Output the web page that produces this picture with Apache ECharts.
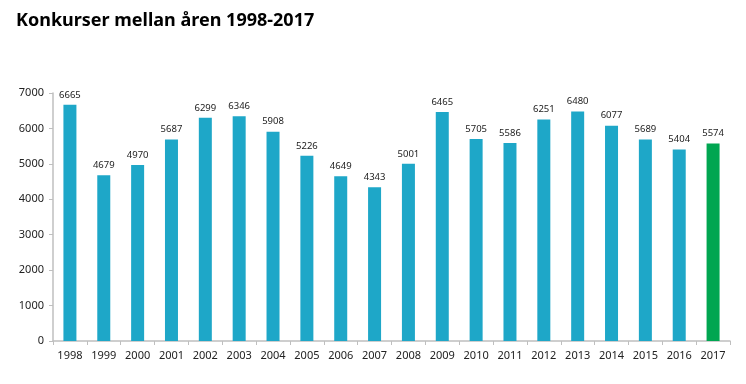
<!DOCTYPE html>
<html><head><meta charset="utf-8">
<script src="https://cdn.jsdelivr.net/npm/echarts@6/dist/echarts.min.js"></script>
<style>html,body{margin:0;padding:0;background:#fff}#c{width:746px;height:384px}</style>
</head><body><div id="c"></div>
<script>
const years = ['1998','1999','2000','2001','2002','2003','2004','2005','2006','2007','2008','2009','2010','2011','2012','2013','2014','2015','2016','2017'];
const values = [6665,4679,4970,5687,6299,6346,5908,5226,4649,4343,5001,6465,5705,5586,6251,6480,6077,5689,5404,5574];
const yTicks = [0,1000,2000,3000,4000,5000,6000,7000];
const title = 'Konkurser mellan åren 1998-2017';
const blue = '#1ea7c8', green = '#00a651';
const chart = echarts.init(document.getElementById('c'));
chart.setOption({
  animation:false,
  title:{text:title,left:11,top:7,textStyle:{fontFamily:'Noto Sans',fontWeight:'bold',fontSize:18,color:'#000'}},
  grid:{left:53,right:16,top:93,bottom:43,containLabel:false},
  xAxis:{type:'category',data:years,
    axisLine:{lineStyle:{color:'#bfbfbf',width:1.5}},
    axisTick:{show:true,alignWithLabel:false,length:4,lineStyle:{color:'#bfbfbf'}},
    axisLabel:{color:'#222',fontSize:11,fontFamily:'Noto Sans',margin:9}},
  yAxis:{type:'value',min:yTicks[0],max:yTicks[yTicks.length-1],interval:1000,
    axisLine:{show:true,lineStyle:{color:'#bfbfbf',width:1.5}},
    axisTick:{show:true,length:4,lineStyle:{color:'#bfbfbf'}},
    splitLine:{show:false},
    axisLabel:{color:'#222',fontSize:11,fontFamily:'Noto Sans',margin:9,formatter:v=>String(v)}},
  series:[{type:'bar',barWidth:13,
    data:values.map((v,i)=>({value:v,itemStyle:{color:i===values.length-1?green:blue}})),
    label:{show:true,position:'top',distance:5,color:'#222',fontSize:9.5,fontFamily:'Noto Sans'}}]
});
</script></body></html>
